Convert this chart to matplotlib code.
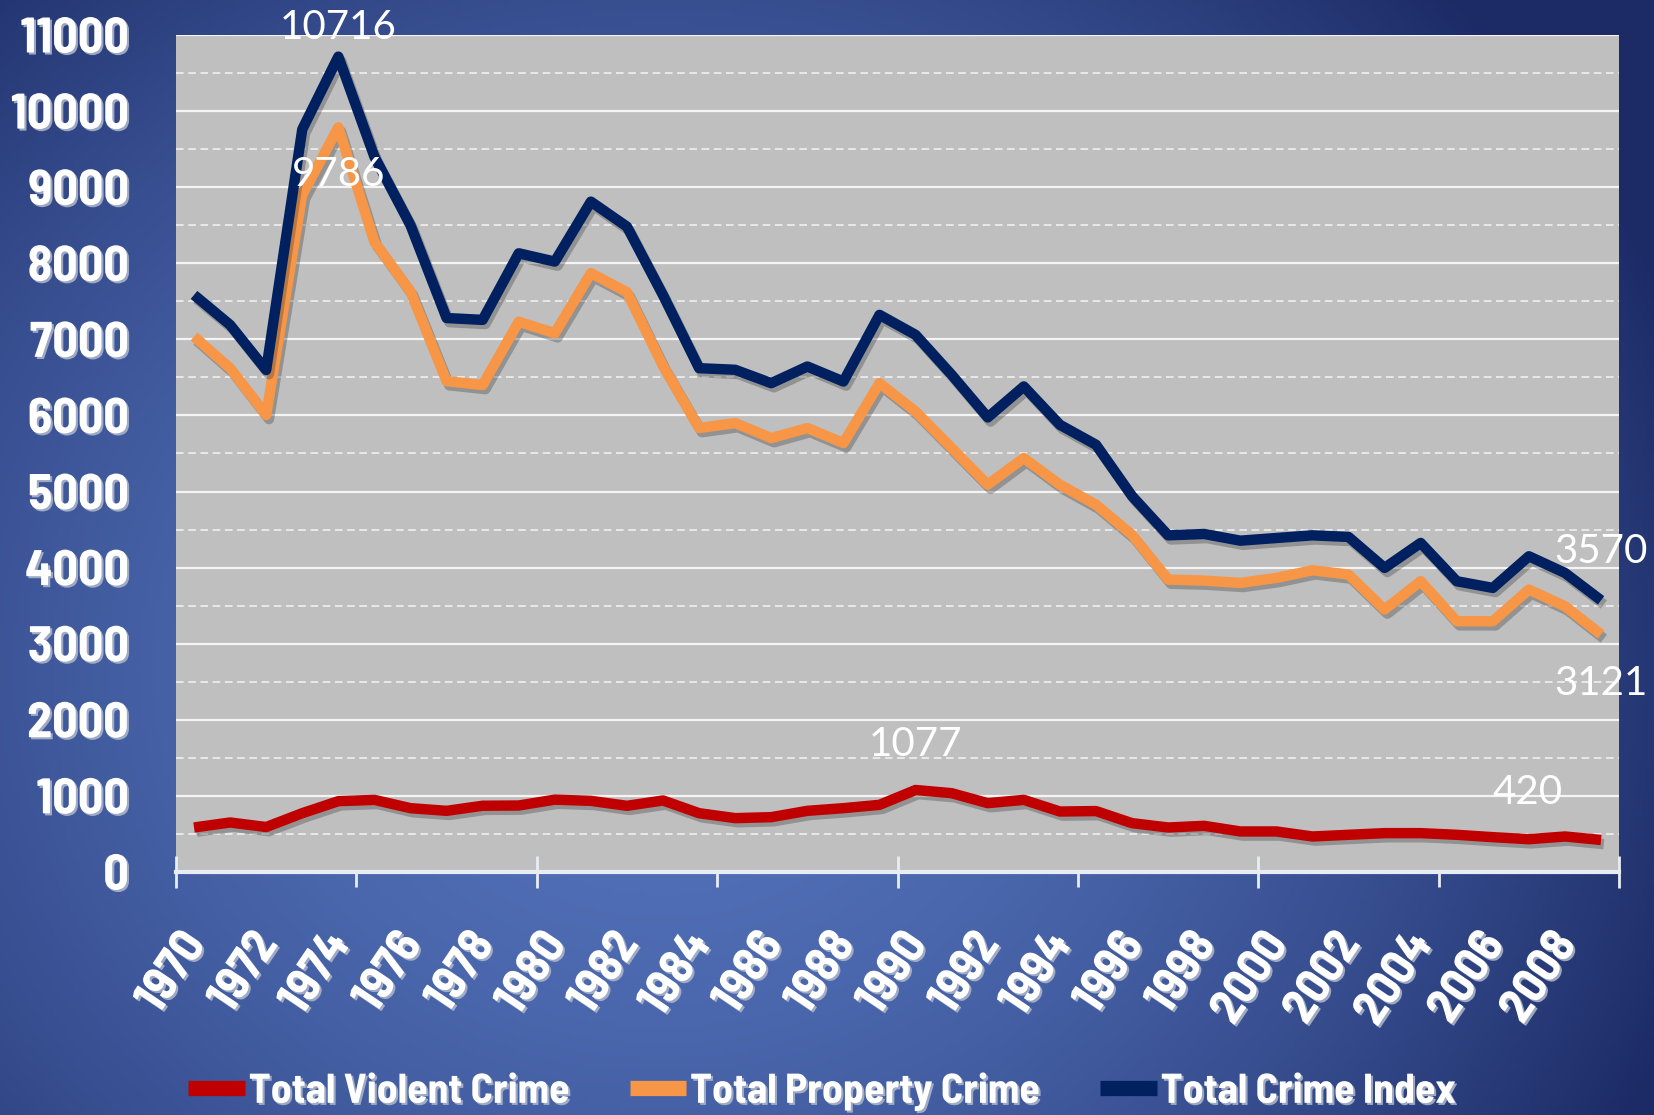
import numpy as np
import matplotlib
matplotlib.use("Agg")
import matplotlib.pyplot as plt
import matplotlib.patheffects as pe
from matplotlib.ticker import MultipleLocator, FixedLocator, NullFormatter
from matplotlib.transforms import ScaledTranslation

# data
years = list(range(1970, 2010))
violent = [584, 650, 590, 772, 930, 947, 838, 803, 870, 873,
           950, 934, 869, 939, 772, 707, 720, 803, 838, 882,
           1077, 1035, 904, 947, 794, 800, 641, 584, 606, 532,
           532, 466, 488, 510, 510, 488, 457, 430, 466, 420]
prop = [7037, 6620, 6006, 8900, 9786, 8280, 7628, 6450, 6400, 7232,
        7080, 7870, 7620, 6650, 5834, 5899, 5702, 5834, 5637, 6424,
        6052, 5571, 5090, 5440, 5090, 4827, 4430, 3842, 3829, 3799,
        3864, 3965, 3908, 3449, 3821, 3295, 3295, 3711, 3492, 3121]
total = [7584, 7190, 6597, 9760, 10716, 9400, 8500, 7280, 7256, 8131,
         8022, 8810, 8481, 7580, 6621, 6600, 6424, 6643, 6446, 7322,
         7059, 6534, 5974, 6381, 5877, 5615, 4940, 4424, 4442, 4354,
         4389, 4424, 4403, 3996, 4324, 3821, 3733, 4149, 3930, 3570]
series_names = ["Total Violent Crime", "Total Property Crime", "Total Crime Index"]
series_colors = ["#c00000", "#f79646", "#002060"]

# (series, point index, label offset in points)
labels = [(2, 4, (0, 21)), (1, 4, (0, -34)), (0, 20, (0, 33)),
          (2, 39, (0, 35)), (1, 39, (0, -35)), (0, 39, (-53, 34))]

BOLD = ["Barlow Semi Condensed", "Lato"]
REG = ["Lato", "DejaVu Sans"]
txt_shadow = [pe.SimplePatchShadow(offset=(1.5, -1.5), shadow_rgbFace="#aab3c8", alpha=0.9), pe.Normal()]

fig = plt.figure(figsize=(16.54, 11.15), dpi=100)

# blue gradient background
bg = fig.add_axes([0, 0, 1, 1], zorder=-10)
gx, gy = np.meshgrid(np.linspace(0, 1, 400), np.linspace(0, 1, 300))
d = np.sqrt((gx - 0.40) ** 2 + ((gy - 0.40) * 0.75) ** 2)
d = np.clip(d / 0.66, 0, 1) ** 1.8
c0 = np.array([0x53, 0x72, 0xba]) / 255
c1 = np.array([0x1c, 0x2b, 0x66]) / 255
img = c0[None, None, :] * (1 - d[..., None]) + c1[None, None, :] * d[..., None]
bg.imshow(img, extent=[0, 1, 0, 1], origin="lower", aspect="auto")
bg.axis("off")

ax = fig.add_axes([0.1064, 0.218, 0.8725, 0.7506])
ax.set_facecolor("#bfbfbf")
x = np.arange(len(years))

data = [violent, prop, total]
shadow = [pe.SimpleLineShadow(offset=(2, -3), shadow_color="#404040", alpha=0.35), pe.Normal()]
for vals, name, col in zip(data, series_names, series_colors):
    ax.plot(x, vals, color=col, lw=7.5, label=name, solid_joinstyle="round",
            solid_capstyle="butt", path_effects=shadow)

for si, idx, off in labels:
    ax.annotate(str(data[si][idx]), (x[idx], data[si][idx]), xytext=off,
                textcoords="offset points", ha="center", va="center",
                color="white", fontsize=29, family=REG, annotation_clip=False)

ax.set_xlim(-0.5, len(years) - 0.5)
ax.set_ylim(0, 11000)

# y axis
ax.yaxis.set_major_locator(MultipleLocator(1000))
ax.yaxis.set_minor_locator(MultipleLocator(500))
ax.grid(axis="y", which="major", color="#f4f4f4", lw=1.6)
ax.grid(axis="y", which="minor", color="#f4f4f4", lw=1.1, ls=(0, (5, 3)))
ax.set_axisbelow(True)
ax.tick_params(axis="y", which="both", length=0, pad=34)
for t in ax.get_yticklabels():
    t.set_fontsize(36)
    t.set_fontweight("bold")
    t.set_color("white")
    t.set_family(BOLD)
    t.set_path_effects(txt_shadow)

# x axis: labels every 2 years, tick marks at category boundaries
ax.xaxis.set_major_locator(FixedLocator(x[::2]))
ax.set_xticklabels([str(y) for y in years[::2]])
ax.xaxis.set_minor_locator(FixedLocator([4.5, 14.5, 24.5, 34.5]))
ax.tick_params(axis="x", which="major", length=0, pad=38)
ax.tick_params(axis="x", which="minor", direction="out", length=11, width=2, color="#e8ecf4")
off = ScaledTranslation(0.2, 0, fig.dpi_scale_trans)
for t in ax.get_xticklabels():
    t.set_rotation(56)
    t.set_ha("right")
    t.set_va("top")
    t.set_fontsize(35)
    t.set_fontweight("bold")
    t.set_color("white")
    t.set_family(BOLD)
    t.set_transform(t.get_transform() + off)
    t.set_path_effects(txt_shadow)

sec = ax.secondary_xaxis("bottom")
sec.set_xticks([-0.5, 9.5, 19.5, 29.5, 39.5])
sec.xaxis.set_major_formatter(NullFormatter())
sec.tick_params(direction="inout", length=23, width=2, color="#e8ecf4")
sec.spines["bottom"].set_visible(False)

for s in ["top", "right", "left"]:
    ax.spines[s].set_visible(False)
ax.spines["bottom"].set_color("#e8ecf4")
ax.spines["bottom"].set_linewidth(3)

leg = fig.legend(loc="center", bbox_to_anchor=(0.497, 0.021), ncol=3, frameon=False,
                 handlelength=1.35, handletextpad=0.1, columnspacing=1.45,
                 prop={"family": BOLD, "weight": "bold", "size": 30})
for t in leg.get_texts():
    t.set_color("white")
    t.set_path_effects(txt_shadow)
for h in leg.legend_handles:
    h.set_linewidth(11)
    h.set_path_effects([])

fig.savefig("out.png", dpi=100)
